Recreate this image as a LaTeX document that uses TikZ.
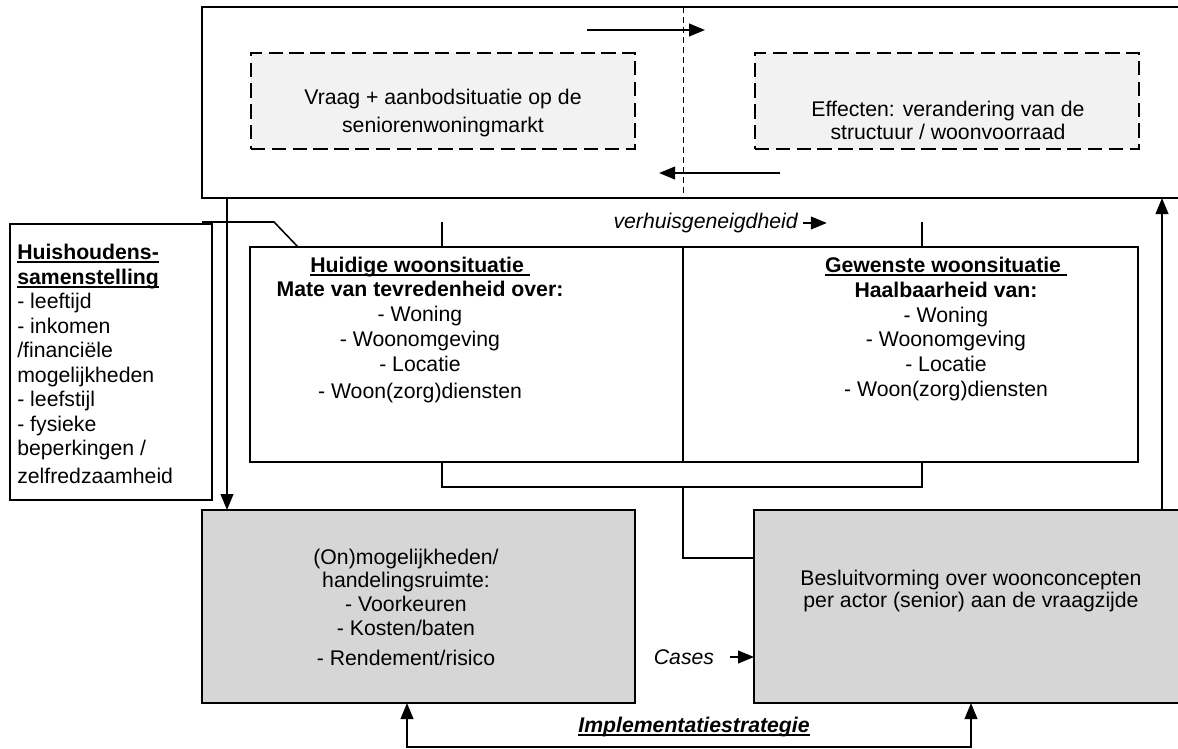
\documentclass[tikz,border=0pt]{standalone}
\usepackage{fontspec}
\setmainfont{Liberation Sans}
\usetikzlibrary{arrows.meta, positioning, calc}
\newsavebox\ulbox
\newcommand{\ulhead}[1]{\sbox\ulbox{#1}\rlap{\rule[-2.4pt]{\wd\ulbox}{1.4pt}}\usebox\ulbox}
\tikzset{
  frame/.style={rectangle, draw=black, line width=1.1pt, inner sep=0pt, outer sep=0pt, anchor=north west},
  dashbox/.style={frame, dash pattern=on 0.36cm off 0.16cm, fill=black!5},
  action/.style={frame, fill=black!16},
  bodytext/.style={align=center, font=\fontsize{15.1pt}{17.6pt}\selectfont, inner sep=0pt},
  tag/.style={font=\fontsize{15.1pt}{17.6pt}\selectfont\itshape, inner sep=0pt},
  flow/.style={line width=1.1pt, -{Triangle[length=0.4cm, width=0.32cm]}},
  wire/.style={line width=1.1pt}
}
\begin{document}
\begin{tikzpicture}[x=0.025cm, y=-0.025cm]
  \useasboundingbox (0,0) rectangle (1178,749);

  % Market level
  \node (market) [frame, minimum width=24.5cm, minimum height=4.775cm] at (202,7) {};
  \node (supply) [dashbox, minimum width=9.6cm, minimum height=2.4cm] at (251,53) {};
  \node (effect) [dashbox, minimum width=9.6cm, minimum height=2.4cm] at (755,53) {};
  \node (supplytext) [bodytext] at (443,113) {Vraag + aanbodsituatie op de\\[2.2pt] seniorenwoningmarkt};
  \node (effecttext) [bodytext] at (948,120) {Effecten: verandering van de\\[-1.2pt] structuur / woonvoorraad};

  % Household and dwelling situation
  \node (household) [frame, minimum width=5.05cm, minimum height=6.9cm] at (10,224) {};
  \node (householdtext) [bodytext, align=left, anchor=west, font=\fontsize{15.1pt}{17.4pt}\selectfont] at (17,364)
    {\ulhead{\bfseries Huishoudens-}\\ \ulhead{\bfseries samenstelling}\\ - leeftijd\\ - inkomen\\ /financiële\\ mogelijkheden\\ - leefstijl\\ - fysieke\\ beperkingen /\\[2.5pt] zelfredzaamheid};
  \node (current) [frame, minimum width=10.825cm, minimum height=5.375cm] at (250,247) {};
  \node (wish) [frame, minimum width=11.375cm, minimum height=5.375cm] at (683,247) {};
  \node (currenttext) [bodytext] at (420,330)
    {\ulhead{\bfseries Huidige woonsituatie\ }\\ {\bfseries Mate van tevredenheid over:}\\ - Woning\\ - Woonomgeving\\ - Locatie\\[2pt] - Woon(zorg)diensten};
  \node (wishtext) [bodytext] at (946,329)
    {\ulhead{\bfseries Gewenste woonsituatie\ }\\ {\bfseries Haalbaarheid van:}\\ - Woning\\ - Woonomgeving\\ - Locatie\\ - Woon(zorg)diensten};
  \node (moving) [tag, anchor=east] at (798,223) {verhuisgeneigdheid};

  % Decision level
  \node (options) [action, minimum width=10.825cm, minimum height=4.825cm] at (202,510) {};
  \node (decision) [action, minimum width=10.7cm, minimum height=4.825cm] at (754,510) {};
  \node (optionstext) [bodytext, font=\fontsize{15.1pt}{16.8pt}\selectfont] at (406,607)
    {(On)mogelijkheden/\\ handelingsruimte:\\ - Voorkeuren\\ - Kosten/baten\\[4.5pt] - Rendement/risico};
  \node (decisiontext) [bodytext, font=\fontsize{15.1pt}{16.2pt}\selectfont] at (971,591)
    {Besluitvorming over woonconcepten\\ per actor (senior) aan de vraagzijde};
  \node (cases) [tag] at (684,657) {Cases};
  \node (impl) [tag, font=\fontsize{15.1pt}{17.6pt}\selectfont\bfseries\itshape] at (694,727) {\ulhead{Implementatiestrategie}};

  % Connections in the market
  \draw [wire, line width=0.8pt, dash pattern=on 0.15cm off 0.1cm] (market.north -| current.north east) -- (market.south -| current.north east);
  \draw [flow] ($(supply.north east)+(-48,-23)$) -- ($(effect.north west)+(-50,-23)$);
  \draw [flow] ($(effect.south west)+(25,24)$) -- ($(supply.south east)+(24,24)$);

  % Connections between the levels
  \draw [flow] ($(market.south west)+(25,0)$) -- ($(options.north west)+(25,0)$);
  \draw [wire] ($(household.north east)+(-10,-2)$) -- ++(72,0) -- ($(current.north west)+(48,0)$);
  \draw [wire] ($(current.north west)+(192,0)$) -- ++(0,-25);
  \draw [wire] ($(wish.north west)+(239,0)$) -- ++(0,-25);
  \draw [flow] ([xshift=0.12cm]moving.east) -- ++(24,0);
  \draw [wire] ($(current.south west)+(192,0)$) -- ++(0,25) -| ($(wish.south west)+(239,0)$);
  \draw [wire] ($(current.south east)+(0,25)$) |- ($(decision.north west)+(0,48)$);
  \draw [flow] ($(decision.north west)+(408,0)$) coordinate (feedback) -- (feedback |- market.south);
  \draw [flow] ([xshift=0.4cm]cases.east) -- (cases.east -| decision.west);
  \draw [wire, {Triangle[length=0.4cm, width=0.32cm]}-{Triangle[length=0.4cm, width=0.32cm]}]
    ($(options.south west)+(205,0)$) -- ++(0,44) -| ($(decision.south west)+(217,0)$);
\end{tikzpicture}
\end{document}
